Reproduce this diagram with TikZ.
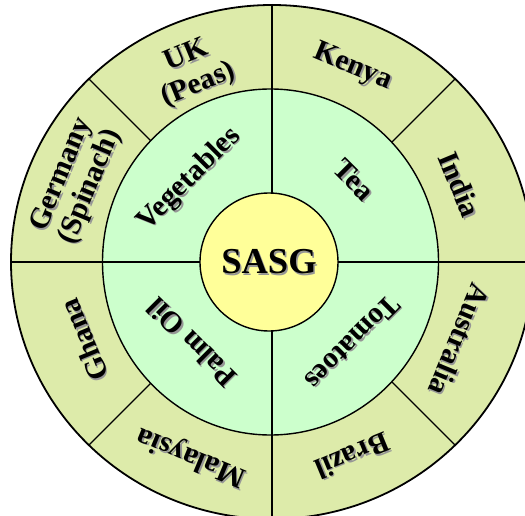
\documentclass[tikz,border=0pt]{standalone}
\usepackage{fontspec}
\setmainfont{Liberation Serif}
\usetikzlibrary{calc}
\definecolor{outerc}{RGB}{221,235,170}
\definecolor{midc}{RGB}{204,255,204}
\definecolor{innc}{RGB}{255,255,153}
\definecolor{shadowc}{RGB}{150,150,150}
\newcommand\plab[5]{%
  \node[lab, text=shadowc, rotate=#4] (#1s) at ($(c)+(#2:#3)+(1.6,-1.6)$) {#5};
  \node[lab, rotate=#4] (#1) at ($(c)+(#2:#3)$) {#5};}
\begin{document}
\begin{tikzpicture}[x=1pt,y=1pt,
  lab/.style={font=\fontsize{29.5}{31}\selectfont\bfseries, align=center, inner sep=0pt},
  ring/.style={draw=black, line width=1.4pt},
  divline/.style={draw=black, line width=1.2pt}]
\useasboundingbox (0,0) rectangle (525,515);
\clip (0,0) rectangle (525,515);
\coordinate (c) at (272,253);
% outer ring
\fill[outerc] (c) ellipse [x radius=261, y radius=257];
\foreach \a in {45,135,225,315}
  \draw[divline] (c) -- ++(\a:259);
% middle ring
\filldraw[fill=midc, ring] ($(c)+(-1.5,0)$) ellipse [x radius=168, y radius=173];
\draw[divline] ($(c)+(-262,0)$) -- ($(c)+(262,0)$);
\draw[divline] ($(c)+(0,258)$) -- ($(c)+(0,-258)$);
% centre
\filldraw[fill=innc, ring] ($(c)+(-3,0)$) circle [radius=69];
\draw[line width=1.8pt] (c) ellipse [x radius=261, y radius=257];
% centre label
\node[font=\fontsize{36.5}{38}\selectfont\bfseries, text=shadowc, inner sep=0pt] (sasgs) at ($(c)+(-1.5,-2)$) {SASG};
\node[font=\fontsize{36.5}{38}\selectfont\bfseries, inner sep=0pt] (sasg) at ($(c)+(-3,0)$) {SASG};
% middle labels
\plab{veg}{135}{117}{45}{Vegetables}
\plab{tea}{45}{116}{-45}{Tea}
\plab{palm}{225}{114}{135}{Palm Oil}
\plab{tom}{315}{114}{225}{Tomatoes}
% outer labels
\plab{uk}{112.5}{207}{22.5}{UK\\(Peas)}
\plab{kenya}{67.5}{211}{-22.5}{Kenya}
\plab{india}{22.5}{203}{-67.5}{India}
\plab{aus}{-22.5}{203}{-112.5}{Australia}
\plab{brazil}{-67.5}{210}{-157.5}{Brazil}
\plab{malay}{247.5}{210}{157.5}{Malaysia}
\plab{ghana}{202.5}{204}{112.5}{Ghana}
\plab{germ}{157.5}{212}{67.5}{Germany\\(Spinach)}
\end{tikzpicture}
\end{document}
